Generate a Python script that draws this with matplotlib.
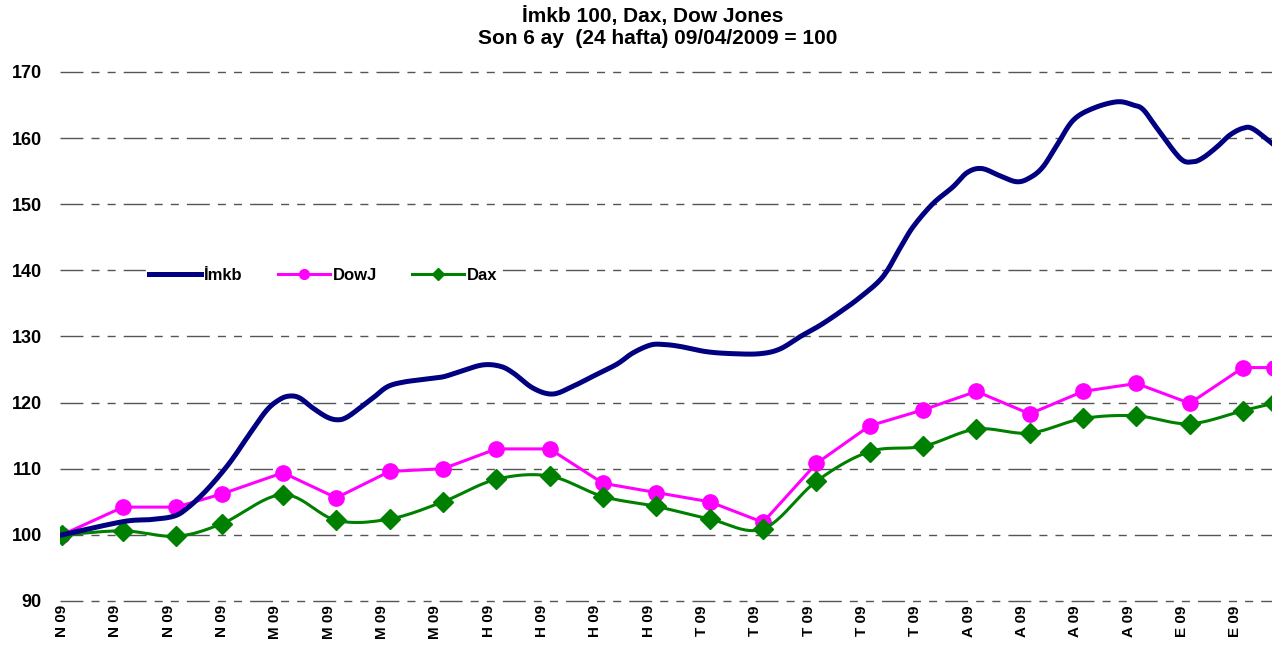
import numpy as np
import pandas as pd
import matplotlib
matplotlib.use("Agg")
import matplotlib.pyplot as plt
from matplotlib.lines import Line2D

plt.rcParams['font.family'] = ['Liberation Sans', 'DejaVu Sans']
plt.rcParams['font.weight'] = 'bold'

# haftalik veri (09/04/2009 = 100)
start = pd.Timestamp('2009-04-09')
week_dates = ['2009-04-09', '2009-04-17', '2009-04-24', '2009-04-30', '2009-05-08',
              '2009-05-15', '2009-05-22', '2009-05-29', '2009-06-05', '2009-06-12',
              '2009-06-19', '2009-06-26', '2009-07-03', '2009-07-10', '2009-07-17',
              '2009-07-24', '2009-07-31', '2009-08-07', '2009-08-14', '2009-08-21',
              '2009-08-28', '2009-09-04', '2009-09-11', '2009-09-15']
dowj = [100.0, 104.2, 104.2, 106.2, 109.4, 105.6, 109.6, 110.0, 113.0, 113.0,
        107.8, 106.4, 105.0, 101.9, 110.8, 116.5, 118.9, 121.7, 118.3, 121.7,
        122.9, 119.9, 125.3, 125.3]
dax = [100.0, 100.6, 99.8, 101.7, 106.1, 102.2, 102.4, 105.0, 108.4, 108.9,
       105.8, 104.3, 102.4, 100.9, 108.1, 112.6, 113.4, 116.0, 115.4, 117.6,
       118.0, 116.8, 118.8, 119.9]

# imkb (gunluk kapanislardan okunan degerler, gun olarak)
imkb_day = [0, 8.0, 11.5, 14.6, 16.4, 19.0, 22.0, 24.7, 26.9, 28.6, 29.9, 31.2,
            32.9, 34.8, 36.2, 37.4, 39.1, 40.8, 42.7, 44.8, 47.4, 50.0, 52.2,
            55.2, 57.5, 59.2, 61.8, 64.4, 67.1, 69.7, 72.8, 74.9, 77.2, 78.9,
            81.1, 84.6, 88.1, 91.6, 94.2, 96.9, 99.5, 102.1, 104.7, 107.7, 110.0,
            111.7, 114.3, 116.9, 118.8, 120.7, 123.1, 125.3, 127.0, 128.7, 130.6,
            132.7, 135.3, 138.5, 140.6, 141.9, 143.7, 146.7, 148.3, 149.7, 151.6,
            153.3, 155.0, 156.3, 158.8]
imkb = [100.0, 102.0, 102.3, 102.8, 104.0, 106.8, 110.9, 115.4, 118.9, 120.5,
        121.0, 120.7, 119.2, 117.8, 117.4, 117.8, 119.2, 120.7, 122.4, 123.1,
        123.5, 123.9, 124.7, 125.7, 125.5, 124.5, 122.2, 121.3, 122.5, 124.0,
        125.8, 127.5, 128.7, 128.8, 128.5, 127.7, 127.4, 127.4, 128.1, 130.0,
        131.7, 133.7, 135.9, 139.0, 143.4, 146.6, 150.1, 152.6, 154.8, 155.4,
        154.3, 153.4, 154.0, 155.6, 159.0, 162.7, 164.5, 165.5, 165.0, 164.3,
        161.5, 157.0, 156.4, 157.0, 158.7, 160.5, 161.5, 161.4, 159.2]

tick_labels = ['N 09'] * 4 + ['M 09'] * 4 + ['H 09'] * 4 + ['T 09'] * 5 + \
              ['A 09'] * 4 + ['E 09'] * 2

week_day = [(pd.Timestamp(d) - start).days for d in week_dates]


def smooth(x, y, n=12):
    # excel tarzi yumusak cizgi (catmull-rom / bezier)
    x = np.asarray(x, float)
    y = np.asarray(y, float)
    px = np.concatenate([[2 * x[0] - x[1]], x, [2 * x[-1] - x[-2]]])
    py = np.concatenate([[2 * y[0] - y[1]], y, [2 * y[-1] - y[-2]]])
    t = np.linspace(0, 1, n, endpoint=False)
    xs, ys = [], []
    for i in range(1, len(px) - 2):
        for p, out in ((px, xs), (py, ys)):
            p0, p1, p2, p3 = p[i - 1], p[i], p[i + 1], p[i + 2]
            c1 = p1 + (p2 - p0) / 6
            c2 = p2 - (p3 - p1) / 6
            out.append((1 - t) ** 3 * p1 + 3 * (1 - t) ** 2 * t * c1
                       + 3 * (1 - t) * t ** 2 * c2 + t ** 3 * p2)
    xs.append([x[-1]])
    ys.append([y[-1]])
    return np.concatenate(xs), np.concatenate(ys)


fig = plt.figure(figsize=(12.72, 6.52), dpi=100)
ax = fig.add_axes([60 / 1272, 1 - 601 / 652, 1 - 60 / 1272, (601 - 72) / 652])

N = 12
ix, iy = smooth(imkb_day, imkb, N)
ax.plot(ix, iy, color='#000080', lw=3.6, solid_joinstyle='round', zorder=4)

ax.plot(week_day, dowj, color='#FF00FF', lw=2.2, marker='o', ms=11,
        mec='#FF00FF', mfc='#FF00FF', zorder=3)

dx, dy = smooth(week_day, dax, N)
ax.plot(dx, dy, color='#008000', lw=2.2, marker='D', ms=10,
        markevery=slice(0, None, N), mec='#008000', mfc='#008000', zorder=3)

ax.set_ylim(90, 170)
ax.set_xlim(-2 / 7.62, (1272 - 62) / 7.62)
ax.set_yticks(np.arange(90, 171, 10))
ax.set_xticks(np.arange(len(tick_labels)) * 7)
ax.set_xticklabels(tick_labels, rotation=90, fontsize=11, fontweight='bold')
ax.tick_params(axis='x', length=0, pad=3)
ax.tick_params(axis='y', length=0, pad=13, labelsize=13)
for s in ax.spines.values():
    s.set_visible(False)
ax.grid(axis='y', color='#555555', lw=1.0,
        linestyle=(0, (16.5, 5.8, 5.8, 5.8, 5.8, 5.8)))
for gl in ax.get_ygridlines():
    gl.set_clip_on(False)
ax.set_axisbelow(True)

handles = [
    Line2D([], [], color='#000080', lw=3.6),
    Line2D([], [], color='#FF00FF', lw=2.2, marker='o', ms=7),
    Line2D([], [], color='#008000', lw=2.2, marker='D', ms=6),
]
leg = fig.legend(handles, ['İmkb', 'DowJ', 'Dax'], ncol=3, frameon=True,
                 loc='center left', bbox_to_anchor=(146 / 1272, 1 - 275 / 652),
                 prop={'size': 12, 'weight': 'bold'}, handlelength=3.1,
                 handletextpad=0.2, columnspacing=2.1, borderpad=0.2,
                 borderaxespad=0)
leg.get_frame().set_edgecolor('white')
leg.get_frame().set_facecolor('white')
leg.get_frame().set_alpha(1)

fig.text(0.513, 1 - 16 / 652, 'İmkb 100, Dax, Dow Jones', ha='center',
         va='center', fontsize=15, fontweight='bold')
fig.text(0.517, 1 - 39 / 652, 'Son 6 ay  (24 hafta) 09/04/2009 = 100',
         ha='center', va='center', fontsize=15, fontweight='bold')

fig.savefig('out.png', dpi=100, facecolor='white')
